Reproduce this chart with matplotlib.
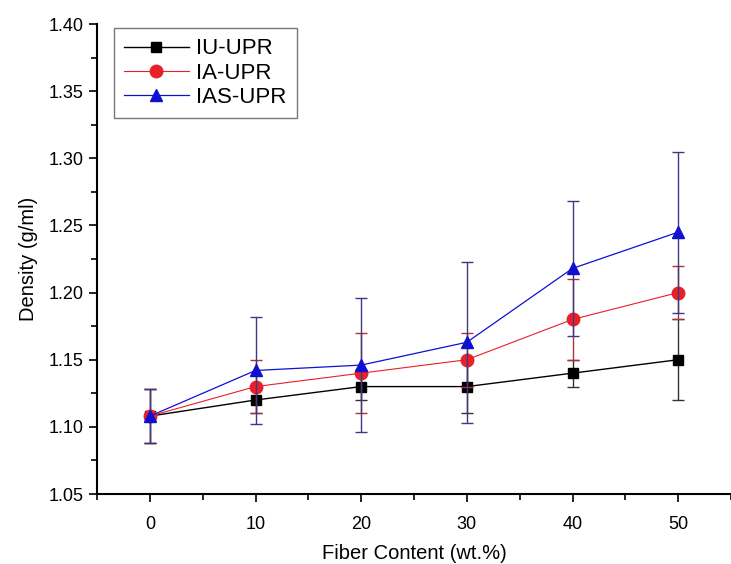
import matplotlib
matplotlib.use('Agg')
import matplotlib.pyplot as plt
from matplotlib.ticker import MultipleLocator, FormatStrFormatter

plt.rcParams['font.family'] = ['Liberation Sans', 'DejaVu Sans']

fiber = [0, 10, 20, 30, 40, 50]

iu_upr = [1.108, 1.12, 1.13, 1.13, 1.14, 1.15]
iu_err = [0.02, 0.01, 0.01, 0.02, 0.01, 0.03]

ia_upr = [1.108, 1.13, 1.14, 1.15, 1.18, 1.20]
ia_err = [0.02, 0.02, 0.03, 0.02, 0.03, 0.02]

ias_upr = [1.108, 1.142, 1.146, 1.163, 1.218, 1.245]
ias_err = [0.02, 0.04, 0.05, 0.06, 0.05, 0.06]

fig = plt.figure(figsize=(7.31, 5.64), dpi=100)
ax = fig.add_axes([0.1327, 0.1241, 0.8673, 0.8333])

e1 = ax.errorbar(fiber, iu_upr, yerr=iu_err, color='black', marker='s', ms=7,
                 lw=1, ecolor='#333333', elinewidth=1, capsize=4, label='IU-UPR', zorder=3)
e2 = ax.errorbar(fiber, ia_upr, yerr=ia_err, color='#e8202a', marker='o', ms=9,
                 lw=0.8, ecolor='#b03040', elinewidth=1, capsize=4, label='IA-UPR', zorder=4)
e3 = ax.errorbar(fiber, ias_upr, yerr=ias_err, color='#1010d0', marker='^', ms=9,
                 lw=0.9, ecolor='#3a3a80', elinewidth=1, capsize=4, label='IAS-UPR', zorder=5)

ax.set_xlim(-5, 55)
ax.set_ylim(1.05, 1.40)
ax.xaxis.set_major_locator(MultipleLocator(10))
ax.xaxis.set_minor_locator(MultipleLocator(5))
ax.yaxis.set_major_locator(MultipleLocator(0.05))
ax.yaxis.set_minor_locator(MultipleLocator(0.025))
ax.yaxis.set_major_formatter(FormatStrFormatter('%.2f'))

for s in ['top', 'right']:
    ax.spines[s].set_visible(False)
for s in ['left', 'bottom']:
    ax.spines[s].set_linewidth(1.5)

ax.tick_params(which='major', direction='out', length=6, width=1.2, labelsize=13)
ax.tick_params(which='minor', direction='out', length=4, width=1.2)
ax.tick_params(axis='x', pad=10)

ax.set_xlabel('Fiber Content (wt.%)', fontsize=14.5, labelpad=8)
ax.set_ylabel('Density (g/ml)', fontsize=14.5, labelpad=8)

# legend without the error bar glyphs
handles = [e1.lines[0], e2.lines[0], e3.lines[0]]
labels = ['IU-UPR', 'IA-UPR', 'IAS-UPR']
leg = ax.legend(handles, labels, loc='upper left', bbox_to_anchor=(0.02, 1.0),
                fontsize=16, frameon=True, fancybox=False, edgecolor='#555555',
                handlelength=2.9, handletextpad=0.35, borderpad=0.45,
                labelspacing=0.15, borderaxespad=0.2)
leg.get_frame().set_linewidth(1)

fig.savefig('out.png', dpi=100)
